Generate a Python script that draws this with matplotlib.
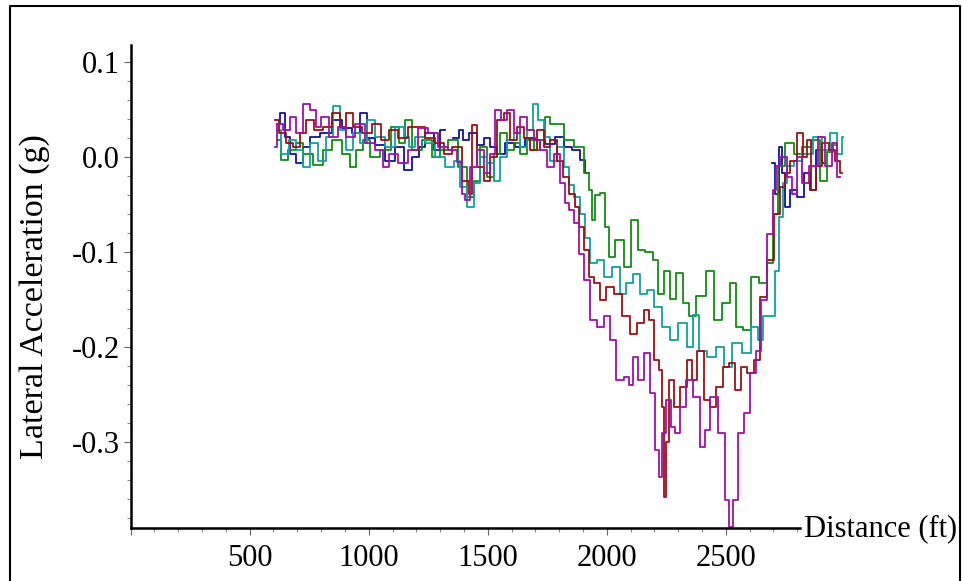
import numpy as np
import matplotlib.pyplot as plt
from matplotlib.lines import Line2D
from matplotlib.ticker import FixedLocator

plt.rcParams['font.family'] = 'Liberation Serif'
plt.rcParams['axes.unicode_minus'] = False

nan = np.nan

# distance along the curve (ft) and lateral acceleration (g), one pair per run
blue_ft = [615, 636, 657, 682, 711, 741, 766, 825, 867, 909, 951, 976, 1006, 1048, 1089,
           1132, 1165, 1203, 1216, 1258, 1287, 1312, 1330, 1375, 1384, 1405, 1438, 1468, 1497, 1522,
           1552, 1594, 1636, 1678, 1720, 1762, 1804, 1833, 1875, 1900, 1917, 1930, 2690, 2699, 2716,
           2728, 2741, 2758, 2783, 2812, 2842, 2863, 2896, 2917]
blue_g = [0.035, 0.046, 0.021, 0.003, -0.007, 0.010, 0.021, 0.025, 0.039, 0.030, 0.025, 0.046, 0.020, 0.012, -0.004,
          0.010, -0.014, 0.000, 0.010, 0.025, 0.007, 0.028, nan, 0.020, 0.028, 0.018, 0.025, 0.012, 0.020, 0.010,
          0.003, 0.015, 0.010, 0.020, 0.018, 0.013, 0.021, 0.010, 0.007, -0.003, -0.017, nan, nan, -0.007, -0.039,
          0.010, -0.017, -0.053, -0.035, -0.042, -0.017, -0.035, 0.007, -0.007]

green_ft = [615, 648, 678, 711, 741, 795, 825, 867, 909, 934, 963, 993, 1018, 1077, 1111,
            1144, 1165, 1203, 1245, 1287, 1312, 1354, 1396, 1426, 1455, 1480, 1510, 1539, 1565, 1594,
            1623, 1649, 1678, 1707, 1732, 1749, 1775, 1804, 1833, 1888, 1917, 1930, 1943, 1959, 1984,
            2001, 2014, 2056, 2085, 2119, 2140, 2182, 2203, 2224, 2254, 2279, 2300, 2338, 2350, 2401,
            2434, 2464, 2506, 2531, 2552, 2590, 2623, 2657, 2686, 2707, 2728, 2770, 2800, 2842, 2884,
            2909, 2938, 2960]
green_g = [0.018, -0.003, 0.007, 0.014, 0.003, -0.009, 0.007, 0.018, 0.003, -0.011, 0.007, 0.018, 0.000, 0.007, 0.031,
           0.014, 0.039, 0.007, 0.018, 0.000, 0.007, 0.018, -0.011, -0.042, -0.025, 0.010, -0.021, 0.003, 0.025, 0.007,
           0.014, 0.003, 0.018, 0.007, 0.018, 0.042, 0.035, 0.035, 0.018, 0.010, -0.017, -0.035, -0.067, -0.040, -0.038,
           -0.074, -0.105, -0.088, -0.116, -0.067, -0.098, -0.100, -0.109, -0.144, -0.120, -0.150, -0.122, -0.154, -0.168, -0.146,
           -0.120, -0.172, -0.154, -0.133, -0.179, -0.182, -0.127, -0.133, -0.112, -0.060, -0.010, 0.014, 0.003, 0.010, 0.018,
           -0.025, 0.005, 0.012]

cyan_ft = [615, 648, 682, 711, 741, 766, 804, 837, 867, 892, 921, 951, 976, 1006, 1048,
           1089, 1132, 1161, 1174, 1216, 1258, 1300, 1342, 1371, 1396, 1426, 1455, 1480, 1510, 1539,
           1565, 1594, 1623, 1649, 1678, 1699, 1720, 1749, 1775, 1804, 1833, 1846, 1875, 1900, 1917,
           1943, 1972, 2001, 2043, 2068, 2098, 2127, 2153, 2182, 2212, 2254, 2279, 2321, 2350, 2371,
           2401, 2443, 2476, 2506, 2548, 2590, 2623, 2644, 2665, 2695, 2716, 2728, 2749, 2770, 2800,
           2842, 2888, 2917, 2959, 2980, 2993]
cyan_g = [0.028, 0.003, 0.018, 0.007, -0.011, 0.014, -0.004, 0.021, 0.053, 0.028, 0.007, 0.025, 0.014, 0.039, 0.021,
          0.010, 0.031, 0.021, 0.010, 0.021, 0.014, 0.000, -0.011, -0.004, -0.032, -0.053, -0.028, 0.000, -0.007, -0.025,
          0.000, 0.018, 0.025, 0.010, 0.028, 0.056, 0.039, 0.021, -0.004, 0.010, -0.011, -0.030, -0.042, -0.060, -0.085,
          -0.112, -0.109, -0.127, -0.116, -0.144, -0.133, -0.123, -0.144, -0.140, -0.158, -0.179, -0.193, -0.175, -0.200, -0.167,
          -0.204, -0.211, -0.200, -0.221, -0.196, -0.207, -0.179, -0.193, -0.168, -0.168, -0.120, -0.063, -0.028, -0.010, -0.004,
          0.003, 0.021, 0.007, 0.025, 0.003, 0.021]

red_ft = [606, 640, 669, 699, 724, 753, 787, 825, 867, 892, 921, 951, 993, 1035, 1069,
          1102, 1144, 1186, 1216, 1258, 1300, 1329, 1371, 1413, 1426, 1438, 1468, 1497, 1522, 1552,
          1581, 1607, 1636, 1665, 1691, 1720, 1749, 1775, 1804, 1825, 1858, 1875, 1888, 1917, 1930,
          1959, 1984, 2014, 2043, 2085, 2111, 2140, 2170, 2182, 2212, 2224, 2237, 2245, 2254, 2266,
          2296, 2321, 2350, 2363, 2392, 2422, 2443, 2476, 2497, 2527, 2552, 2573, 2602, 2632, 2657,
          2686, 2720, 2737, 2758, 2783, 2820, 2833, 2846, 2867, 2888, 2917, 2947, 2968, 2989]
red_g = [0.039, 0.025, 0.014, 0.010, 0.025, 0.039, 0.028, 0.031, 0.046, 0.031, 0.046, 0.031, 0.025, 0.035, 0.018,
         0.028, 0.020, 0.031, 0.031, 0.020, 0.014, 0.003, 0.010, -0.025, -0.039, 0.033, -0.011, -0.025, 0.000, 0.039,
         0.046, 0.018, 0.031, 0.020, 0.007, 0.028, 0.010, 0.018, -0.004, -0.021, -0.039, -0.053, -0.074, -0.098, -0.127,
         -0.133, -0.151, -0.137, -0.144, -0.168, -0.186, -0.175, -0.161, -0.172, -0.214, -0.224, -0.263, -0.358, -0.300, -0.235,
         -0.263, -0.242, -0.214, -0.235, -0.204, -0.256, -0.263, -0.242, -0.221, -0.217, -0.245, -0.221, -0.228, -0.214, -0.148,
         -0.109, -0.060, -0.032, -0.017, -0.004, 0.025, 0.000, 0.018, -0.035, -0.010, 0.014, 0.007, -0.004, -0.017]

magenta_ft = [606, 627, 657, 682, 703, 741, 766, 787, 816, 850, 892, 921, 963, 1006, 1048,
              1069, 1102, 1144, 1186, 1228, 1270, 1312, 1354, 1384, 1396, 1417, 1438, 1468, 1497, 1522,
              1543, 1565, 1594, 1623, 1649, 1678, 1707, 1732, 1762, 1791, 1816, 1833, 1854, 1875, 1888,
              1917, 1943, 1972, 2001, 2026, 2056, 2085, 2098, 2127, 2140, 2170, 2191, 2212, 2224, 2237,
              2258, 2279, 2296, 2321, 2342, 2380, 2401, 2422, 2447, 2485, 2506, 2518, 2539, 2560, 2590,
              2615, 2636, 2657, 2686, 2707, 2716, 2741, 2770, 2791, 2812, 2833, 2867, 2905, 2930, 2959,
              2980]
magenta_g = [0.010, 0.035, 0.028, 0.042, 0.025, 0.056, 0.049, 0.031, 0.042, 0.021, 0.031, 0.021, 0.035, 0.014, 0.007,
             -0.011, 0.003, -0.007, 0.007, 0.030, 0.025, 0.010, 0.007, -0.005, -0.039, -0.046, -0.011, 0.007, -0.017, 0.003,
             0.049, 0.039, 0.049, 0.025, 0.042, 0.028, 0.018, 0.007, -0.011, 0.003, -0.028, -0.049, -0.056, -0.070, -0.102,
             -0.130, -0.172, -0.179, -0.168, -0.193, -0.235, -0.232, -0.240, -0.211, -0.235, -0.207, -0.249, -0.309, -0.337, -0.291,
             -0.256, -0.284, -0.291, -0.263, -0.235, -0.253, -0.305, -0.288, -0.253, -0.291, -0.361, -0.390, -0.361, -0.291, -0.270,
             -0.228, -0.204, -0.151, -0.081, -0.035, -0.010, 0.000, -0.021, -0.039, 0.000, -0.028, -0.010, 0.021, -0.010, 0.014,
             -0.021]

x_ticks = [0, 500, 1000, 1500, 2000, 2500]
x_tick_labels = ['', '500', '1000', '1500', '2000', '2500']
y_ticks = [-0.3, -0.2, -0.1, 0.0, 0.1]
y_tick_labels = ['-0.3', '-0.2', '-0.1', '0.0', '0.1']

fig = plt.figure(figsize=(9.63, 5.81), dpi=100)
ax = fig.add_axes([0.1357, 0.0907, 0.7415, 0.8318])

runs = [
    (blue_ft, blue_g, '#1010a8'),
    (green_ft, green_g, '#108c10'),
    (cyan_ft, cyan_g, '#10a0a0'),
    (red_ft, red_g, '#9c1010'),
    (magenta_ft, magenta_g, '#a010a8'),
]
for ft, g, c in runs:
    ax.plot(ft, g, color=c, lw=1.3, drawstyle='steps-mid')

ax.set_xlim(0, 3000)
ax.set_ylim(-0.391, 0.1176)

ax.spines['top'].set_visible(False)
ax.spines['right'].set_visible(False)
ax.spines['left'].set_linewidth(1.8)
ax.spines['bottom'].set_linewidth(1.8)
ax.spines['bottom'].set_bounds(0, 2810)

ax.xaxis.set_major_locator(FixedLocator(x_ticks))
ax.set_xticklabels(x_tick_labels)
ax.xaxis.set_minor_locator(FixedLocator(np.arange(100, 2810, 100)))
ax.yaxis.set_major_locator(FixedLocator(y_ticks))
ax.set_yticklabels(y_tick_labels)
ax.yaxis.set_minor_locator(FixedLocator(np.arange(-0.38, 0.11, 0.02)))

ax.tick_params(which='major', length=5, width=0.8, color='#666666', labelsize=22, pad=3)
ax.tick_params(which='minor', length=3, width=0.8, color='#888888')
ax.tick_params(axis='x', which='major', pad=6)

fig.text(0.036, 0.49, 'Lateral Acceleration (g)', rotation=90, ha='center', va='center', fontsize=24.5)
ax.annotate('Distance (ft)', xy=(2810, -0.391), xytext=(3, 0), textcoords='offset points',
            ha='left', va='center', fontsize=22, annotation_clip=False)

# frame around the figure
fig.add_artist(Line2D([0.0104, 0.0104, 0.9969, 0.9969], [0.0, 0.9897, 0.9897, 0.0],
                      transform=fig.transFigure, color='black', lw=1.5))

fig.savefig('out.png', dpi=100)
